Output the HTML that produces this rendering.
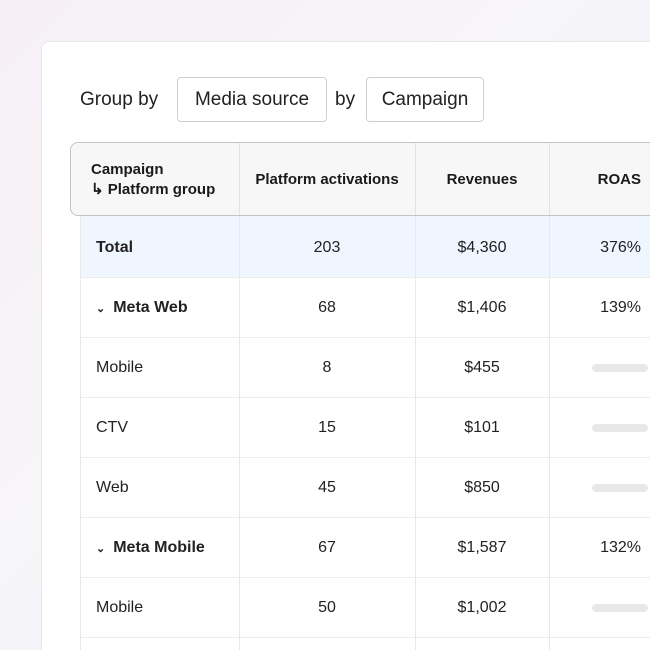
<!DOCTYPE html>
<html style="width:650px;height:650px;overflow:hidden"><head><meta charset="utf-8"><style>
*{box-sizing:border-box;margin:0;padding:0}
body{width:650px;height:650px;overflow:hidden;position:relative;font-family:"Liberation Sans",sans-serif;color:#1a1a1a;
background:linear-gradient(135deg,#f6f0f5 0%,#f7f5f8 40%,#eef4f8 70%,#dcedf3 100%);}
.card{position:absolute;left:41px;top:41px;width:640px;height:640px;background:#fff;border:1px solid #e6e6e8;border-radius:8px}
.a{position:absolute;white-space:nowrap}
.btn{position:absolute;border:1px solid #cfcfcf;border-radius:4px;height:45px;font-size:19px;line-height:43px;text-align:center;color:#222}
.hdr{position:absolute;left:70px;top:142px;width:620px;height:74px;background:#f7f7f7;border:1px solid #c4c4c4;border-radius:8px 0 0 8px}
.hc{position:absolute;font-size:15px;font-weight:bold;color:#1a1a1a}
.vl{position:absolute;width:1px;background:#e8e8e8}
.hl{position:absolute;left:80px;width:580px;height:1px;background:#ececec}
.t{position:absolute;font-size:16px;line-height:20px;white-space:nowrap;color:#222}
.c1{left:96px}
.c2{left:239px;width:176px;text-align:center}
.c3{left:415px;width:134px;text-align:center}
.c4{left:549px;width:92px;text-align:right}
.b{font-weight:bold}
.bar{position:absolute;left:592px;width:56px;height:8px;border-radius:4px;background:#e8e8e8}
</style></head><body>
<div class="card"></div>
<div class="a" style="left:80px;top:89px;font-size:19px;color:#222">Group by</div>
<div class="btn" style="left:177px;top:77px;width:150px">Media source</div>
<div class="a" style="left:335px;top:89px;font-size:19px;color:#222">by</div>
<div class="btn" style="left:366px;top:77px;width:118px">Campaign</div>

<div style="position:absolute;left:80px;top:216px;width:580px;height:61px;background:#eff6ff"></div>
<div class="vl" style="left:80px;top:216px;height:434px"></div>
<div class="vl" style="left:239px;top:216px;height:434px"></div>
<div class="vl" style="left:415px;top:216px;height:434px"></div>
<div class="vl" style="left:549px;top:216px;height:434px"></div>
<div class="hl" style="top:277px"></div>
<div class="hl" style="top:337px"></div>
<div class="hl" style="top:397px"></div>
<div class="hl" style="top:457px"></div>
<div class="hl" style="top:517px"></div>
<div class="hl" style="top:577px"></div>
<div class="hl" style="top:637px"></div>

<div class="hdr"></div>
<div class="vl" style="left:239px;top:143px;height:72px;background:#e2e2e2"></div>
<div class="vl" style="left:415px;top:143px;height:72px;background:#e2e2e2"></div>
<div class="vl" style="left:549px;top:143px;height:72px;background:#e2e2e2"></div>
<div class="hc" style="left:91px;top:160px;line-height:20px">Campaign<br>↳ Platform group</div>
<div class="hc" style="left:239px;width:176px;text-align:center;top:171px">Platform activations</div>
<div class="hc" style="left:415px;width:134px;text-align:center;top:171px">Revenues</div>
<div class="hc" style="left:549px;width:92px;text-align:right;top:171px">ROAS</div>

<div class="t c1 b" style="top:238px">Total</div><div class="t c2" style="top:238px">203</div><div class="t c3" style="top:238px">$4,360</div><div class="t c4" style="top:238px">376%</div>
<div class="t c1 b" style="top:298px"><span style="font-size:11px;margin-right:8px">⌄</span>Meta Web</div><div class="t c2" style="top:298px">68</div><div class="t c3" style="top:298px">$1,406</div><div class="t c4" style="top:298px">139%</div>
<div class="t c1" style="top:358px">Mobile</div><div class="t c2" style="top:358px">8</div><div class="t c3" style="top:358px">$455</div><div class="bar" style="top:364px"></div>
<div class="t c1" style="top:418px">CTV</div><div class="t c2" style="top:418px">15</div><div class="t c3" style="top:418px">$101</div><div class="bar" style="top:424px"></div>
<div class="t c1" style="top:478px">Web</div><div class="t c2" style="top:478px">45</div><div class="t c3" style="top:478px">$850</div><div class="bar" style="top:484px"></div>
<div class="t c1 b" style="top:538px"><span style="font-size:11px;margin-right:8px">⌄</span>Meta Mobile</div><div class="t c2" style="top:538px">67</div><div class="t c3" style="top:538px">$1,587</div><div class="t c4" style="top:538px">132%</div>
<div class="t c1" style="top:598px">Mobile</div><div class="t c2" style="top:598px">50</div><div class="t c3" style="top:598px">$1,002</div><div class="bar" style="top:604px"></div>
</body></html>
